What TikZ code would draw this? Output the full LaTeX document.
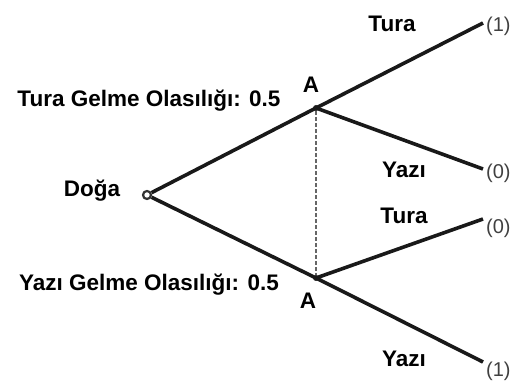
\documentclass[tikz,border=0pt]{standalone}
\usepackage{fontspec}
\setmainfont{Liberation Sans}
\begin{document}
\begin{tikzpicture}[x=1pt,y=1pt,
  branch/.style={line width=3.6pt,black!90},
  lbl/.style={font=\fontsize{22.5}{26}\selectfont\bfseries,inner sep=0pt},
  payoff/.style={font=\fontsize{20}{23}\selectfont,inner sep=0pt,text=black!75},
  dec/.style={circle,fill=black!85,inner sep=0pt,minimum size=6pt}]
\useasboundingbox (0,0) rectangle (531,383);
% decision nodes
\node[circle,draw=black!80,line width=2.2pt,inner sep=0pt,minimum size=8pt] (root) at (147,188) {};
\node[dec] (a1) at (316,275) {};
\node[dec] (a2) at (316,105) {};
% terminal points
\coordinate (t1) at (483,360);
\coordinate (t2) at (483,214);
\coordinate (t3) at (483,164);
\coordinate (t4) at (483,21);
% branches
\draw[branch] (root) -- (a1.center);
\draw[branch] (root) -- (a2.center);
\draw[branch] (a1.center) -- (t1);
\draw[branch] (a1.center) -- (t2);
\draw[branch] (a2.center) -- (t3);
\draw[branch] (a2.center) -- (t4);
% information set
\draw[line width=2pt,black!60,dash pattern=on 3.5pt off 2.5pt] (a1) -- (a2);
% labels
\node[lbl] at (92,192) {Doğa};
\node[lbl] at (149,282) {Tura Gelme Olasılığı: 0.5};
\node[lbl] at (149,98) {Yazı Gelme Olasılığı: 0.5};
\node[lbl] at (311,298) {A};
\node[lbl] at (308,82) {A};
\node[lbl] at (392,359) {Tura};
\node[lbl] at (404,213) {Yazı};
\node[lbl] at (404,167) {Tura};
\node[lbl] at (404,24) {Yazı};
\node[payoff,anchor=west] at (486,357) {(1)};
\node[payoff,anchor=west] at (486,210) {(0)};
\node[payoff,anchor=west] at (486,155) {(0)};
\node[payoff,anchor=west] at (486,12) {(1)};
\end{tikzpicture}
\end{document}
